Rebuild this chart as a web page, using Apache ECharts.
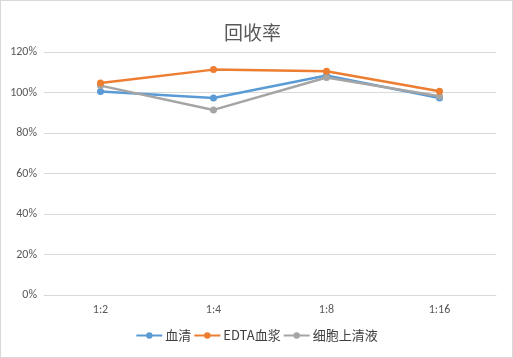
<!DOCTYPE html>
<html><head><meta charset="utf-8">
<script src="https://cdn.jsdelivr.net/npm/echarts@6/dist/echarts.min.js"></script>
<style>html,body{margin:0;padding:0;background:#fff}#c{width:511px;height:356px;border:1px solid #d9d9d9}</style>
</head><body><div id="c"></div>
<script>
var categories = ['1:2', '1:4', '1:8', '1:16'];
var serum = [100.5, 97.3, 108.4, 97.3];
var edta = [104.7, 111.3, 110.5, 100.6];
var cell = [103.4, 91.4, 107.4, 98.2];
var seriesNames = ['血清', 'EDTA血浆', '细胞上清液'];
var colors = ['#5B9BD5', '#ED7D31', '#A5A5A5'];
var chart = echarts.init(document.getElementById('c'));
var font = '"Microsoft YaHei","Noto Sans CJK SC",sans-serif';
function mk(name, data, i) {
  return {name: name, type: 'line', data: data, symbol: 'circle', symbolSize: 7,
    lineStyle: {width: 2.5, color: colors[i]}, itemStyle: {color: colors[i]}, z: i === 1 ? 3 : 2};
}
chart.setOption({
  animation: false,
  title: {text: '回收率', left: 218, top: 17, textStyle: {fontSize: 19, fontWeight: 'normal', color: '#595959', fontFamily: font}},
  grid: {left: 43, right: 16, top: 51, bottom: 62},
  legend: {bottom: 10, left: 'center', itemWidth: 26, itemHeight: 8, itemGap: 2, textStyle: {fontSize: 13, color: '#404040', fontFamily: font, padding: [0, 0, 0, -2]}, data: seriesNames},
  xAxis: {type: 'category', data: categories, axisTick: {show: false},
    axisLine: {lineStyle: {color: '#d9d9d9'}},
    axisLabel: {color: '#595959', fontSize: 12, margin: 9, fontFamily: 'Calibri,"Liberation Sans",sans-serif'}},
  yAxis: {type: 'value', min: 0, max: 120, interval: 20,
    axisLabel: {formatter: '{value}%', color: '#595959', fontSize: 12, margin: 7, fontFamily: 'Calibri,"Liberation Sans",sans-serif'},
    splitLine: {lineStyle: {color: '#d9d9d9'}}, axisLine: {show: false}},
  series: [mk(seriesNames[0], serum, 0), mk(seriesNames[1], edta, 1), mk(seriesNames[2], cell, 2)]
});
</script></body></html>
